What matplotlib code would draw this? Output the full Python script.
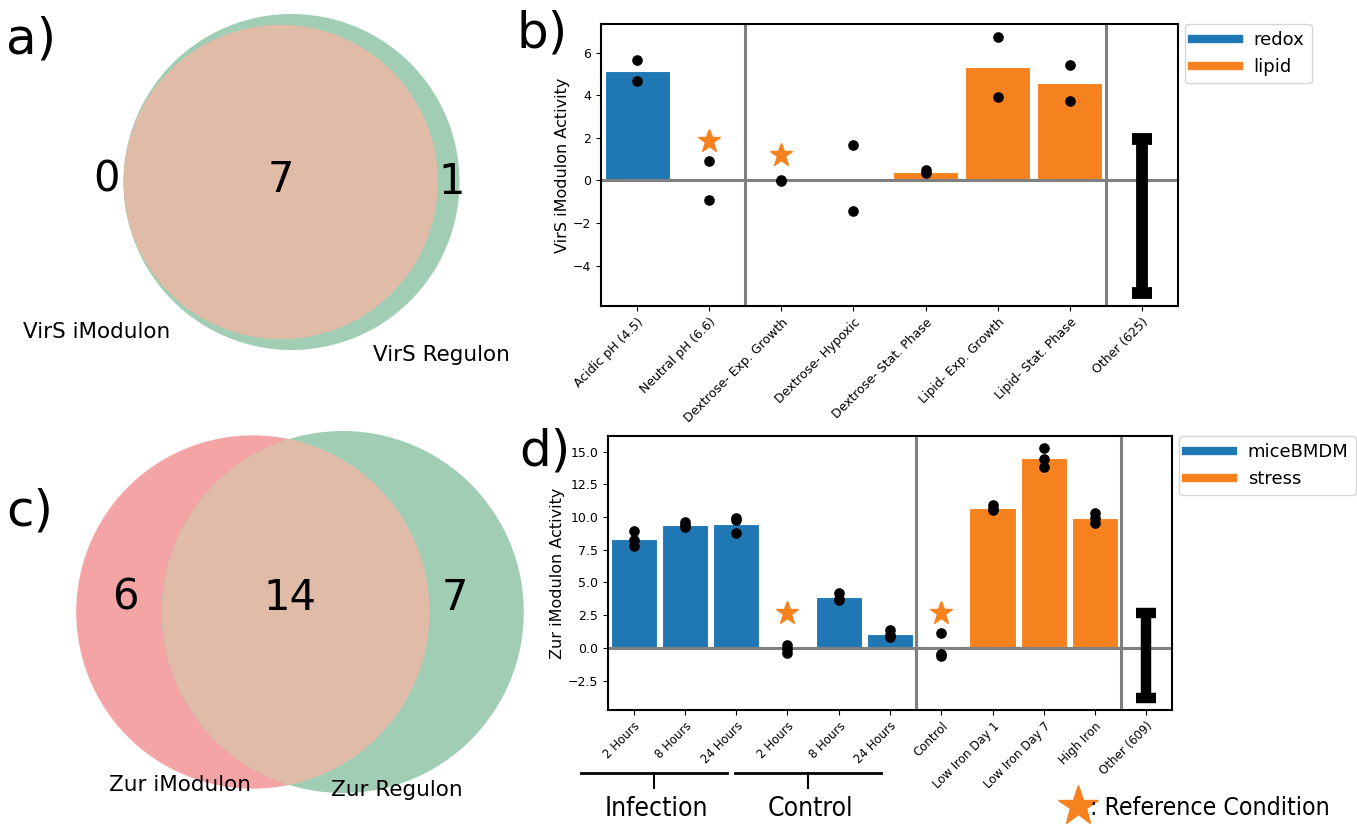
# Two venn diagrams (iModulon vs regulon) and two activity bar charts
import numpy as np
import matplotlib.pyplot as plt
from matplotlib.patches import Circle
from matplotlib.lines import Line2D
from matplotlib import transforms

# ---------------- data ----------------
virs_counts = (0, 1, 7)      # iModulon only, regulon only, shared
virs_names = ('VirS iModulon', 'VirS Regulon')
zur_counts = (6, 7, 14)
zur_names = ('Zur iModulon', 'Zur Regulon')

virs_conds = ['Acidic pH (4.5)', 'Neutral pH (6.6)', 'Dextrose- Exp. Growth',
              'Dextrose- Hypoxic', 'Dextrose- Stat. Phase', 'Lipid- Exp. Growth',
              'Lipid- Stat. Phase']
virs_groups = ['redox', 'redox', 'lipid', 'lipid', 'lipid', 'lipid', 'lipid']
virs_reps = [[5.64, 4.69], [0.89, -0.92], [0.04, -0.05], [1.68, -1.45],
             [0.47, 0.34], [6.72, 3.92], [5.44, 3.72]]
virs_ref = [False, True, True, False, False, False, False]
virs_star = [0, 1.83, 1.2, 0, 0, 0, 0]
virs_other = ('Other (625)', -5.27, 1.97)

zur_conds = ['2 Hours', '8 Hours', '24 Hours', '2 Hours', '8 Hours', '24 Hours',
             'Control', 'Low Iron Day 1', 'Low Iron Day 7', 'High Iron']
zur_groups = ['miceBMDM'] * 6 + ['stress'] * 4
zur_reps = [[8.95, 8.24, 7.8], [9.59, 9.39, 9.26], [9.9, 9.8, 8.8],
            [0.22, -0.05, -0.4], [4.2, 3.75, 3.65], [1.4, 0.95, 0.8],
            [1.1, -0.5, -0.65], [10.95, 10.6, 10.55], [15.25, 14.44, 13.85],
            [10.28, 9.9, 9.52]]
zur_ref = [False, False, False, True, False, False, True, False, False, False]
zur_star = [0, 0, 0, 2.68, 0, 0, 2.68, 0, 0, 0]
zur_other = ('Other (609)', -3.86, 2.68)
zur_brackets = [('Infection', 0, 2), ('Control', 3, 5)]

blue = '#1f77b4'
orange = '#f5821f'
c_red, c_green, c_both = '#f4a4a5', '#a0cdb4', '#e0bca8'


def lens_area(r1, r2, d):
    if d >= r1 + r2:
        return 0.0
    if d <= abs(r1 - r2):
        return np.pi * min(r1, r2) ** 2
    a1 = r1 ** 2 * np.arccos((d * d + r1 * r1 - r2 * r2) / (2 * d * r1))
    a2 = r2 ** 2 * np.arccos((d * d + r2 * r2 - r1 * r1) / (2 * d * r2))
    a3 = 0.5 * np.sqrt((-d + r1 + r2) * (d + r1 - r2) * (d - r1 + r2) * (d + r1 + r2))
    return a1 + a2 - a3


def draw_venn(ax, counts, cx, cy, rb):
    a_only, b_only, both = counts
    ra = rb * np.sqrt((a_only + both) / (b_only + both))
    target = np.pi * rb ** 2 * both / (b_only + both)
    lo, hi = abs(ra - rb), ra + rb
    for _ in range(60):
        mid = (lo + hi) / 2
        if lens_area(ra, rb, mid) > target:
            lo = mid
        else:
            hi = mid
    d = (lo + hi) / 2
    left = min(-ra, d - rb)
    right = max(ra, d + rb)
    xa = cx - (left + right) / 2
    xb = xa + d
    ca = Circle((xa, cy), ra, fc=c_red, ec='none')
    cb = Circle((xb, cy), rb, fc=c_green, ec='none')
    ax.add_patch(ca)
    ax.add_patch(cb)
    cab = Circle((xa, cy), ra, fc=c_both, ec='none')
    ax.add_patch(cab)
    cab.set_clip_path(cb)
    return xa, xb, ra, rb


# ---------------- figure ----------------
fig = plt.figure(figsize=(13.57, 8.25), dpi=100)

# pixel-space overlay for the venns and the reference key
ax0 = fig.add_axes([0, 0, 1, 1])
ax0.set_xlim(0, 1357)
ax0.set_ylim(825, 0)
ax0.axis('off')

draw_venn(ax0, virs_counts, 291.5, 182, 168)
for s, (x, y) in zip(virs_counts, [(107, 180), (452, 182), (281, 180)]):
    ax0.text(x, y, str(s), fontsize=30, ha='center', va='center')
ax0.text(97, 332, virs_names[0], fontsize=15.5, ha='center', va='center')
ax0.text(441, 355, virs_names[1], fontsize=15.5, ha='center', va='center')

draw_venn(ax0, zur_counts, 300, 612, 181)
for s, (x, y) in zip(zur_counts, [(125, 598), (455, 598), (290, 598)]):
    ax0.text(x, y, str(s), fontsize=30, ha='center', va='center')
ax0.text(180, 785, zur_names[0], fontsize=15.5, ha='center', va='center')
ax0.text(397, 790, zur_names[1], fontsize=15.5, ha='center', va='center')

ax0.plot(1078, 806, marker='*', ms=30, color=orange, ls='')
ax0.text(1090, 808, ': Reference Condition', fontsize=17.8, stretch='condensed',
         ha='left', va='center')

fig.text(6 / 1357, 1 - 40 / 825, 'a)', fontsize=36, ha='left', va='center')
fig.text(6 / 1357, 1 - 512 / 825, 'c)', fontsize=36, ha='left', va='center')
fig.text(568 / 1357, 1 - 34 / 825, 'b)', fontsize=36, ha='right', va='center')
fig.text(570 / 1357, 1 - 452 / 825, 'd)', fontsize=36, ha='right', va='center')


def activity_panel(ax, conds, groups, reps, ref, star, other, ylabel,
                   yticks, ylim, lw_other):
    n = len(conds)
    x = np.arange(n)
    colors = {g: c for g, c in zip(dict.fromkeys(groups), [blue, orange])}
    for i in range(n):
        if not ref[i]:
            ax.bar(x[i], np.mean(reps[i]), width=0.9, color=colors[groups[i]],
                   edgecolor='white', lw=0.8, zorder=1)
        else:
            ax.plot(x[i], star[i], marker='*', ms=17, color=orange, ls='', zorder=3)
        ax.scatter([x[i]] * len(reps[i]), reps[i], s=44, color='k', zorder=4)
    # group dividers
    for i in range(1, n):
        if groups[i] != groups[i - 1]:
            ax.axvline(i - 0.5, color='gray', lw=2.2, zorder=2)
    ax.axvline(n - 0.5, color='gray', lw=2.2, zorder=2)
    ax.axhline(0, color='gray', lw=2.2, zorder=2)
    lab, lo, hi = other
    ax.errorbar(n, (lo + hi) / 2, yerr=(hi - lo) / 2, fmt='none', ecolor='k',
                elinewidth=lw_other, capsize=7.5, capthick=lw_other, zorder=3)
    ax.set_xticks(list(x) + [n])
    ax.set_xticklabels(conds + [lab], rotation=45, ha='right',
                       rotation_mode='anchor', fontsize=9)
    ax.set_xlim(-0.5, n + 0.5)
    ax.set_ylim(*ylim)
    ax.set_yticks(yticks)
    ax.tick_params(axis='y', labelsize=9)
    ax.set_ylabel(ylabel, fontsize=11.5, labelpad=2)
    for sp in ax.spines.values():
        sp.set_linewidth(1.5)
    handles = [Line2D([0], [0], color=c, lw=6) for c in colors.values()]
    w = ax.get_position().width * 1357
    ax.legend(handles, list(colors.keys()), loc='upper left', borderaxespad=0,
              bbox_to_anchor=(1 + 7 / w, 1.0), fontsize=13, handlelength=2.6)


axb = fig.add_axes([601 / 1357, 1 - 306 / 825, 577 / 1357, 282 / 825])
activity_panel(axb, virs_conds, virs_groups, virs_reps, virs_ref, virs_star,
               virs_other, 'VirS iModulon Activity', [-4, -2, 0, 2, 4, 6],
               (-5.9, 7.35), 8.5)

axd = fig.add_axes([608 / 1357, 1 - 710 / 825, 564 / 1357, 274 / 825])
activity_panel(axd, zur_conds, zur_groups, zur_reps, zur_ref, zur_star,
               zur_other, 'Zur iModulon Activity',
               [-2.5, 0, 2.5, 5, 7.5, 10, 12.5, 15], (-4.75, 16.2), 7.5)
axd.tick_params(axis='x', labelsize=8.5)

# brackets under the infection / control time points
tr = transforms.blended_transform_factory(axd.transData, axd.transAxes)
for name, i0, i1 in zur_brackets:
    c = (i0 + i1) / 2 - 0.6
    axd.plot([c - 1.42, c + 1.42], [-0.23, -0.23], color='k', lw=2,
             transform=tr, clip_on=False)
    axd.plot([c, c], [-0.23, -0.285], color='k', lw=1.5, transform=tr,
             clip_on=False)
    axd.text(c + 0.05, -0.36, name, fontsize=19, stretch='condensed',
             ha='center', va='center', transform=tr)

fig.savefig('out.png', dpi=100)
